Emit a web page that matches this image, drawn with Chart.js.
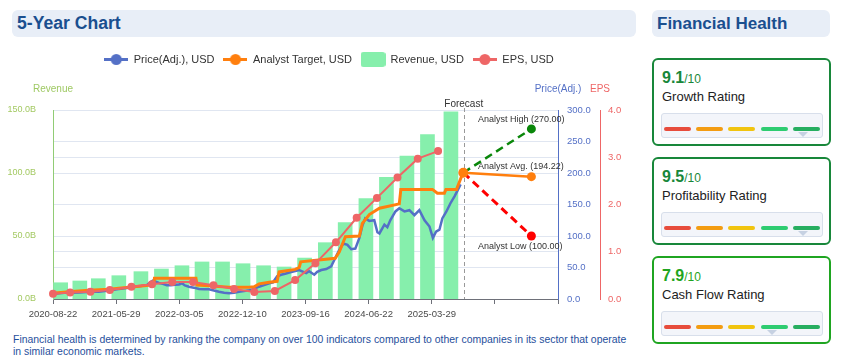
<!DOCTYPE html>
<html><head><meta charset="utf-8">
<script src="https://cdn.jsdelivr.net/npm/chart.js@4.4.1/dist/chart.umd.min.js"></script>
<style>
html,body{margin:0;padding:0;background:#fff;}
body{width:853px;height:363px;position:relative;overflow:hidden;font-family:"Liberation Sans",Arial,sans-serif;}
.bar{position:absolute;top:10px;height:27px;background:#e8eef7;border-radius:6px;}
.bar span{position:absolute;left:5px;top:0;line-height:27px;font-size:17px;font-weight:bold;color:#1a4f8f;white-space:nowrap;}
#cw{position:absolute;left:0;top:40px;width:640px;height:290px;}
.foot{position:absolute;left:13px;top:334px;font-size:10.45px;line-height:12px;color:#1f4f9c;white-space:nowrap;}
.card{position:absolute;left:652px;width:179px;height:88px;box-sizing:border-box;border:2px solid #18873a;border-radius:6px;background:#fff;}
.score{position:absolute;left:8px;top:10px;line-height:16px;font-size:16px;font-weight:bold;color:#18873a;white-space:nowrap;}
.score small{font-size:12px;font-weight:normal;}
.lbl{position:absolute;left:8px;top:30px;line-height:13px;font-size:13px;color:#222;white-space:nowrap;}
.gauge{position:absolute;left:7px;top:53px;width:162px;height:25px;box-sizing:border-box;background:#f3f5fa;border:1px solid #d8dfeb;border-radius:3px;}
.seg{position:absolute;top:13px;width:27px;height:4px;border-radius:2px;}
.tri{position:absolute;top:18px;width:0;height:0;border-left:5px solid transparent;border-right:5px solid transparent;border-top:5px solid #c6d1e2;}
</style>
</head>
<body>
<div class="bar" style="left:12px;width:624px;"><span style="font-size:17.6px">5-Year Chart</span></div>
<div id="cw"><canvas id="c" width="640" height="290" style="width:640px;height:290px"></canvas></div>
<div class="foot">Financial health is determined by ranking the company on over 100 indicators compared to other companies in its sector that operate<br>in similar economic markets.</div>

<div class="bar" style="left:652px;width:178px;"><span>Financial Health</span></div>

<div class="card" style="top:58px;">
  <div class="score">9.1<small>/10</small></div>
  <div class="lbl">Growth Rating</div>
  <div class="gauge">
    <div class="seg" style="left:1.5px;background:#e74c3c"></div>
    <div class="seg" style="left:33.5px;background:#f39c12"></div>
    <div class="seg" style="left:66px;background:#f1c40f"></div>
    <div class="seg" style="left:98.5px;background:#2ecc71"></div>
    <div class="seg" style="left:130.5px;background:#27ae60"></div>
    <div class="tri" style="left:136px"></div>
  </div>
</div>
<div class="card" style="top:157px;">
  <div class="score">9.5<small>/10</small></div>
  <div class="lbl">Profitability Rating</div>
  <div class="gauge">
    <div class="seg" style="left:1.5px;background:#e74c3c"></div>
    <div class="seg" style="left:33.5px;background:#f39c12"></div>
    <div class="seg" style="left:66px;background:#f1c40f"></div>
    <div class="seg" style="left:98.5px;background:#2ecc71"></div>
    <div class="seg" style="left:130.5px;background:#27ae60"></div>
    <div class="tri" style="left:136px"></div>
  </div>
</div>
<div class="card" style="top:256px;border-color:#1fa521;">
  <div class="score" style="color:#1fa521">7.9<small>/10</small></div>
  <div class="lbl">Cash Flow Rating</div>
  <div class="gauge">
    <div class="seg" style="left:1.5px;background:#e74c3c"></div>
    <div class="seg" style="left:33.5px;background:#f39c12"></div>
    <div class="seg" style="left:66px;background:#f1c40f"></div>
    <div class="seg" style="left:98.5px;background:#2ecc71"></div>
    <div class="seg" style="left:130.5px;background:#27ae60"></div>
    <div class="tri" style="left:105px"></div>
  </div>
</div>

<script>
// x values are days since 2020-08-22
const xTickLabels = ['2020-08-22','2021-05-29','2022-03-05','2022-12-10','2023-09-16','2024-06-22','2025-03-29','',''];

const priceDays = [0,25,52,79,114,150,181,203,230,256,283,310,336,363,390,416,430,443,456,470,487,505,523,541,559,572,585,603,625,648,670,692,714,736,759,781,803,825,847,870,892,914,936,959,976,994,1012,1030,1048,1070,1092,1105,1123,1136,1159,1172,1190,1212,1234,1252,1270,1288,1306,1323,1341,1359,1372,1385,1403,1425,1439,1448,1470,1483,1496,1519,1536,1559,1581,1603,1625,1648,1670,1685,1699,1714,1727,1745,1763,1781,1794,1808];
const priceValues = [8,9,10,10,10.5,11,11.5,11.5,12.5,14,15.5,16.5,18,19.5,20.5,22,26,29,27.5,25.5,24,22,22,22.5,23,25,21.5,19.5,18,16,15.5,15.5,13.5,11.5,10,9,10,11.5,12.5,14,16,19.5,22,25,26.5,36,38.5,40,42,44,46,44,41,44,38.5,43,46,47.5,52,65,78,88,86,79,80,97,116,128,124,125,106,104,118,114,125,139,144,139,141,133,141,125,115,97,107,110,128,139,152,163,172,182];

const targetDays = [0,70,159,248,336,425,447,450,634,639,692,781,870,892,914,959,994,1003,1074,1092,1099,1252,1270,1279,1297,1359,1372,1403,1448,1536,1543,1683,1705,1736,1743,1790,1803,1818];
const targetValues = [9,11.5,14,15.5,18.5,22,22.5,33,33,22,21,18.6,18.6,19.5,24,26.5,28,43,47,50,59,64.6,75,83,99,100,120,134,144,151,174,174,168,168,174,174,186,200];

const revenueDays = [34,119,201,292,390,481,572,661,752,843,934,1025,1116,1208,1296,1388,1479,1570,1661,1765];
const revenueValues = [12.9,14.3,16.1,18.5,21.7,23.8,26.4,29.4,29.4,28.0,26.4,25.4,32.5,44.7,60.6,79.6,96.6,113.5,130.5,148.5]; // billions USD

const epsDays = [0,76,166,252,348,439,529,621,712,803,893,984,1074,1164,1255,1347,1437,1528,1618,1708];
const epsValues = [0.11,0.14,0.155,0.19,0.26,0.31,0.36,0.36,0.29,0.21,0.15,0.17,0.40,0.755,1.20,1.72,2.14,2.57,2.97,3.13];

const forecastDay = 1822;
const forecastStartDay = 1820;
const forecastStartPrice = 200.5;
const forecastEndDay = 2122;
const analystHigh = 270.00;
const analystAvg = 194.22;
const analystLow = 100.00;

const zip = (xs, ys) => xs.map((x, i) => ({x: x, y: ys[i]}));

function lineIcon(color) {
  const c = document.createElement('canvas');
  c.width = 24; c.height = 13;
  const g = c.getContext('2d');
  g.strokeStyle = color; g.fillStyle = color; g.lineWidth = 3;
  g.beginPath(); g.moveTo(0, 6.5); g.lineTo(24, 6.5); g.stroke();
  g.beginPath(); g.arc(12, 6.5, 5.5, 0, Math.PI * 2); g.fill();
  return c;
}
function boxIcon(color) {
  const c = document.createElement('canvas');
  c.width = 25; c.height = 15;
  const g = c.getContext('2d');
  g.fillStyle = color;
  g.beginPath();
  if (g.roundRect) g.roundRect(0, 0, 25, 15, 3); else g.rect(0, 0, 25, 15);
  g.fill();
  return c;
}
const legendIcons = [lineIcon('#5470c6'), lineIcon('#ff7f0e'), boxIcon('#86efac'), lineIcon('#ee6666')];

const FONT = '"Liberation Sans", Arial, sans-serif';
Chart.defaults.font.family = FONT;

const overlay = {
  id: 'overlay',
  beforeLayout(chart) {
    const lg = chart.legend;
    if (lg && !lg._patched) {
      const f = lg.fit;
      lg.fit = function () { f.call(this); this.height += 35; };
      lg._patched = true;
    }
  },
  afterLayout(chart) {
    if (chart.legend) chart.legend.left += 18;
  },
  beforeDatasetsDraw(chart) {
    const {ctx, chartArea, scales} = chart;
    const fx = Math.round(scales.x.getPixelForValue(forecastDay)) + 0.5;
    ctx.save();
    ctx.strokeStyle = '#999';
    ctx.lineWidth = 1;
    ctx.setLineDash([4, 3]);
    ctx.beginPath();
    ctx.moveTo(fx, chartArea.top - 2);
    ctx.lineTo(fx, chartArea.bottom);
    ctx.stroke();
    ctx.restore();
  },
  afterDraw(chart) {
    const {ctx, chartArea, scales} = chart;
    ctx.save();
    ctx.textBaseline = 'middle';
    ctx.textAlign = 'center';
    ctx.font = '10px ' + FONT;
    const ny = chartArea.top - 20.5;
    ctx.fillStyle = '#9fc964';
    ctx.fillText('Revenue', scales.yRev.right, ny);
    ctx.fillStyle = '#5470c6';
    ctx.fillText('Price(Adj.)', scales.yPrice.left, ny);
    ctx.fillStyle = '#ee6666';
    ctx.fillText('EPS', scales.yEps.left, ny);
    ctx.fillStyle = '#333';
    ctx.fillText('Forecast', scales.x.getPixelForValue(forecastDay), chartArea.top - 5.7);
    ctx.font = '9px ' + FONT;
    ctx.textAlign = 'left';
    const ex = scales.x.getPixelForValue(forecastEndDay) - 53.5;
    ctx.fillText('Analyst High (' + analystHigh.toFixed(2) + ')', ex, scales.yPrice.getPixelForValue(analystHigh) - 9.5);
    ctx.fillText('Analyst Avg. (' + analystAvg.toFixed(2) + ')', ex, scales.yPrice.getPixelForValue(analystAvg) - 10.5);
    ctx.fillText('Analyst Low (' + analystLow.toFixed(2) + ')', ex, scales.yPrice.getPixelForValue(analystLow) + 10.5);
    ctx.restore();
  }
};

new Chart(document.getElementById('c'), {
  type: 'line',
  data: {
    datasets: [
      {label: 'Price(Adj.), USD', type: 'line', data: zip(priceDays, priceValues), yAxisID: 'yPrice',
       borderColor: '#5470c6', backgroundColor: '#5470c6', borderWidth: 2.5, pointRadius: 0, order: 2, clip: false},
      {label: 'Analyst Target, USD', type: 'line', data: zip(targetDays, targetValues), yAxisID: 'yPrice',
       borderColor: '#ff7f0e', backgroundColor: '#ff7f0e', borderWidth: 3, pointRadius: 0, order: 1, clip: false},
      {label: 'Revenue, USD', type: 'bar', data: zip(revenueDays, revenueValues), yAxisID: 'yRev',
       backgroundColor: '#86efac', borderWidth: 0, barThickness: 14, order: 5},
      {label: 'EPS, USD', type: 'line', data: zip(epsDays, epsValues), yAxisID: 'yEps',
       borderColor: '#ee6666', backgroundColor: '#ee6666', borderWidth: 2, pointRadius: 4, pointBorderWidth: 0, order: 0, clip: false},
      {label: 'Analyst Avg', type: 'line', data: [{x: forecastStartDay, y: forecastStartPrice}, {x: forecastEndDay, y: analystAvg}], yAxisID: 'yPrice',
       borderColor: '#ff7f0e', backgroundColor: '#ff7f0e', borderWidth: 2.5, pointRadius: [5, 4.5], pointBorderWidth: 0, order: 0, clip: false},
      {label: 'Analyst High', type: 'line', data: [{x: forecastStartDay, y: forecastStartPrice}, {x: forecastEndDay, y: analystHigh}], yAxisID: 'yPrice',
       borderColor: '#0a870a', backgroundColor: '#0a870a', borderWidth: 2.5, borderDash: [8, 5], pointRadius: [0, 4.5], pointBorderWidth: 0, order: 0, clip: false},
      {label: 'Analyst Low', type: 'line', data: [{x: forecastStartDay, y: forecastStartPrice}, {x: forecastEndDay, y: analystLow}], yAxisID: 'yPrice',
       borderColor: '#ff0000', backgroundColor: '#ff0000', borderWidth: 3, borderDash: [8, 5], pointRadius: [0, 4.5], pointBorderWidth: 0, order: 0, clip: false}
    ]
  },
  options: {
    responsive: false,
    animation: false,
    devicePixelRatio: 1,
    events: [],
    layout: {padding: {left: 0, top: 5, right: 0, bottom: 0}},
    elements: {line: {tension: 0}},
    plugins: {
      tooltip: {enabled: false},
      legend: {
        position: 'top',
        labels: {
          usePointStyle: true,
          pointStyleWidth: 24,
          padding: 9,
          color: '#333',
          font: {size: 11, family: FONT},
          filter: (it) => it.datasetIndex < 4,
          sort: (a, b) => a.datasetIndex - b.datasetIndex,
          generateLabels(chart) {
            const items = Chart.defaults.plugins.legend.labels.generateLabels(chart);
            items.forEach((it) => { it.pointStyle = legendIcons[it.datasetIndex]; });
            return items;
          }
        }
      }
    },
    scales: {
      x: {
        type: 'linear', min: 0, max: 2240, offset: false,
        afterFit(s) { s.height = 31; },
        ticks: {stepSize: 280, autoSkip: false, maxRotation: 0, color: '#4a4a4a', font: {size: 9.5}, padding: 5,
          callback: (v, i) => xTickLabels[i] !== undefined ? xTickLabels[i] : ''},
        grid: {display: true, drawOnChartArea: false, drawTicks: true, tickLength: 5, color: '#6e7079', offset: false},
        border: {display: true, color: '#6e7079', width: 1}
      },
      yRev: {
        type: 'linear', position: 'left', min: 0, max: 150,
        afterFit(s) { s.width = 53; },
        ticks: {stepSize: 50, color: '#a3c962', font: {size: 9}, padding: 9, callback: (v) => v.toFixed(1) + 'B'},
        grid: {display: false},
        border: {display: true, color: '#91cc75', width: 1}
      },
      yPrice: {
        type: 'linear', position: 'right', min: 0, max: 300,
        afterFit(s) { s.width = 42; },
        ticks: {stepSize: 50, color: '#5470c6', font: {size: 9.5}, padding: 9, callback: (v) => v.toFixed(1)},
        grid: {display: true, drawTicks: false, color: '#e0e6f1'},
        border: {display: true, color: '#5470c6', width: 1}
      },
      yEps: {
        type: 'linear', position: 'right', min: 0, max: 4,
        afterFit(s) { s.width = 40; },
        ticks: {stepSize: 1, color: '#ee6666', font: {size: 9.5}, padding: 8, callback: (v) => v.toFixed(1)},
        grid: {display: true, drawTicks: false, color: '#e0e6f1'},
        border: {display: true, color: '#ee6666', width: 1}
      }
    }
  },
  plugins: [overlay]
});
</script>
</body></html>
